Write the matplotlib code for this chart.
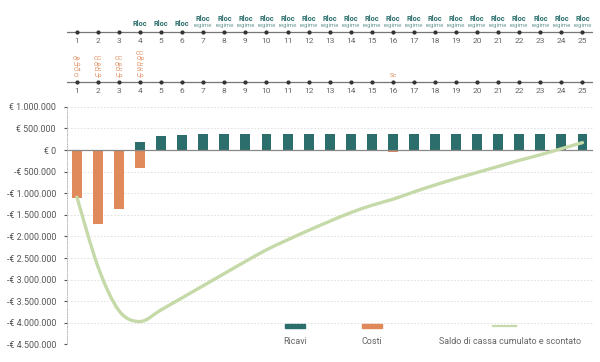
import numpy as np
import matplotlib
matplotlib.use('Agg')
import matplotlib.pyplot as plt
from matplotlib.path import Path
from matplotlib.patches import PathPatch, Rectangle
from matplotlib.lines import Line2D
from matplotlib.ticker import FuncFormatter

plt.rcParams['font.family'] = ['Liberation Sans Narrow', 'Roboto', 'DejaVu Sans']

# data
years = list(range(1, 26))
ricavi = [0, 0, 0, 0.19, 0.32, 0.34] + [0.37] * 19          # milioni di euro
costi = [-1.12, -1.71, -1.37, -0.41] + [0] * 11 + [-0.04] + [0] * 9
saldo = [-1.09, -2.70, -3.72, -3.97, -3.70, -3.42, -3.14, -2.86, -2.58, -2.31,
         -2.08, -1.86, -1.65, -1.45, -1.28, -1.14, -0.97, -0.81, -0.66, -0.52,
         -0.38, -0.24, -0.11, 0.03, 0.17]
riga_ricavi = {4: 'Rloc', 5: 'Rloc', 6: 'Rloc'}
riga_ricavi.update({y: 'Rloc\nregime' for y in range(7, 26)})
riga_costi = {1: 'Op\nUp\nCa\nCi', 2: 'CC\nOp\nDc\nUp', 3: 'CC\nOp\nDc\nUp',
              4: 'CC\nOp\nDc\nSc\nUp', 16: 'Sc'}

TEAL = '#2b6e6b'
ORANGE = '#e0895a'
GREEN = '#c6d9a8'
GREY = '#666666'

W, H = 600, 362
fig = plt.figure(figsize=(6, 3.62), dpi=100)
left, right = 67 / W, 593 / W
xlim = (0.53, 25.5)

# main chart
ax = fig.add_axes([left, 1 - 344.4 / H, right - left, (344.4 - 106.8) / H])
scale = 1e6
ax.bar(years, [v * scale for v in ricavi], width=0.47, color=TEAL, zorder=2)
ax.bar(years, [v * scale for v in costi], width=0.47, color=ORANGE, zorder=2)

# smoothed line (Excel-style bezier through the points)
pts = np.column_stack([years, np.array(saldo) * scale])
verts = [tuple(pts[0])]
codes = [Path.MOVETO]
n = len(pts)
for i in range(n - 1):
    p0 = pts[max(i - 1, 0)]
    p1 = pts[i]
    p2 = pts[i + 1]
    p3 = pts[min(i + 2, n - 1)]
    c1 = p1 + (p2 - p0) / 6
    c2 = p2 - (p3 - p1) / 6
    verts += [tuple(c1), tuple(c2), tuple(p2)]
    codes += [Path.CURVE4] * 3
ax.add_patch(PathPatch(Path(verts, codes), fill=False, edgecolor=GREEN,
                       lw=2.4, capstyle='round', zorder=3))

ax.set_xlim(*xlim)
ax.set_ylim(-4.5e6, 1.0e6)
ax.set_yticks(np.arange(-4.5e6, 1.0e6 + 1, 5e5))


def euro(v, pos):
    s = f"{abs(v):,.0f}".replace(',', '.')
    return f"-€ {s}" if v < 0 else f"€ {s}"


ax.yaxis.set_major_formatter(FuncFormatter(euro))
ax.tick_params(axis='y', labelsize=6.4, colors='#555555', length=2, width=0.8, pad=6)
ax.set_xticks([])
ax.grid(axis='y', color='#dddddd', linestyle=(0, (2, 2)), lw=0.6, zorder=0)
for s in ['top', 'right', 'bottom']:
    ax.spines[s].set_visible(False)
ax.spines['left'].set_linestyle((0, (1, 1.5)))
ax.spines['left'].set_color('#bbbbbb')
ax.spines['left'].set_linewidth(0.7)
ax.axhline(0, color='#888888', lw=0.9, zorder=2.5)

# timelines at the top (pixel coordinates on y)
tl = fig.add_axes([left, 1 - 100 / H, right - left, 100 / H])
tl.set_xlim(*xlim)
tl.set_ylim(100, 0)
tl.axis('off')
for ly, ny in [(32, 41), (82, 91)]:
    tl.axhline(ly, color='#777777', lw=0.9)
    tl.plot(years, [ly] * len(years), 'o', ms=2, color='#333333')
    for y in years:
        tl.text(y, ny, str(y), ha='center', va='center', fontsize=6, color=GREY)
for y, lab in riga_ricavi.items():
    if '\n' in lab:
        tl.text(y, 19, 'Rloc', ha='center', va='center', fontsize=5.2,
                color=TEAL, fontweight='bold')
        tl.text(y, 25.5, 'regime', ha='center', va='center', fontsize=4.3,
                color='#6a9a97')
    else:
        tl.text(y, 24, lab, ha='center', va='center', fontsize=5.2,
                color=TEAL, fontweight='bold')
for y, lab in riga_costi.items():
    tl.text(y, 78, lab, ha='center', va='bottom', fontsize=4.6,
            color=ORANGE, linespacing=1.15)

# legend
fig.patches.append(Rectangle((285 / W, 1 - 328 / H), 20 / W, 4 / H,
                             transform=fig.transFigure, color=TEAL))
fig.patches.append(Rectangle((362 / W, 1 - 328 / H), 20 / W, 4 / H,
                             transform=fig.transFigure, color=ORANGE))
fig.lines.append(Line2D([493 / W, 516 / W], [1 - 326 / H] * 2,
                        transform=fig.transFigure, color=GREEN, lw=1.6))
fig.text(295 / W, 1 - 341 / H, 'Ricavi', ha='center', va='center', fontsize=6.5, color=GREY)
fig.text(372 / W, 1 - 341 / H, 'Costi', ha='center', va='center', fontsize=6.5, color=GREY)
fig.text(510 / W, 1 - 341 / H, 'Saldo di cassa cumulato e scontato',
         ha='center', va='center', fontsize=6.5, color=GREY)

fig.savefig('out.png', dpi=100)
